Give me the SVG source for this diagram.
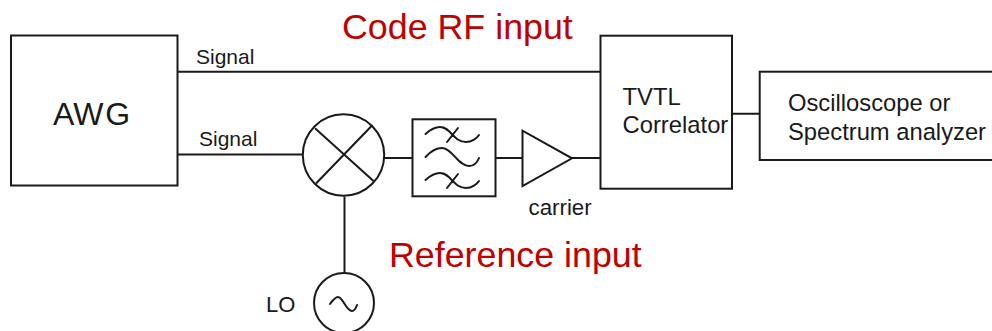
<svg xmlns="http://www.w3.org/2000/svg" width="992" height="331" viewBox="0 0 992 331">
<style>
.s{fill:none;stroke:#1a1a1a;stroke-width:2}
.c{fill:none;stroke:#1a1a1a;stroke-width:2;stroke-linecap:round}
.t{font-family:"Liberation Sans",Arial,sans-serif;fill:#1a1a1a}
.r{font-family:"Liberation Sans",Arial,sans-serif;fill:#c00000;font-size:35.8px}
</style>
<rect width="992" height="331" fill="#fff"/>
<g id="connectors">
<path class="s" d="M178 71.7H600.5M178 154.5H303M384 158H412.5M495.5 158H522.5M572 158H600.5M732 113.7H760M344.5 196.500V273.500"/>
</g>
<g id="awg"><rect class="s" x="11" y="35.500" width="166.500" height="150"/><text class="t" x="53" y="125" font-size="32">AW<tspan dx="2">G</tspan></text></g>
<g id="mixer"><circle class="s" cx="343.500" cy="155" r="40.700"/><path class="s" d="M315 128.300L373.500 181M372.500 125L316 183.500"/></g>
<g id="filter"><rect class="s" x="412.500" y="119.300" width="83" height="77"/>
<path class="c" d="M425.500 134C431 129 436 127 440 127C451 127 453 142 466 142C472 142 477 138 479 135M447 142L458 128"/>
<path class="c" d="M425.500 157C431 151 437 148 442 148C452 148 458 166 469 166C474 166 477 163 479 158"/>
<path class="c" d="M425.500 180C431 175 436 173 440 173C451 173 453 188 466 188C472 188 477 184 479 181M447 188L458 174"/></g>
<g id="amp"><path class="s" d="M522.500 130.700V186L572 158.300Z"/></g>
<g id="lo"><circle class="s" cx="344" cy="303" r="30"/><path class="c" d="M330 304C333 300 335 297 338 297C343 297 346 311 352 311C355 311 356 308 357 305"/></g>
<g id="correlator"><rect class="s" x="600.500" y="35.700" width="131.500" height="153"/><text class="t" x="622.500" y="105" font-size="23.800">TVTL</text><text class="t" x="622.500" y="133" font-size="23.800">Correlator</text></g>
<g id="scope"><rect class="s" x="759.700" y="71.700" width="240" height="88.300"/><text class="t" x="788" y="111" font-size="23.750">Oscilloscope or</text><text class="t" x="788" y="140" font-size="23.750">Spectrum analyzer</text></g>
<text class="t" x="196" y="64" font-size="21">Signal</text>
<text class="t" x="199" y="146" font-size="21">Signal</text>
<text class="t" x="528.500" y="215" font-size="22.300">carrier</text>
<text class="t" x="266" y="312" font-size="22">LO</text>
<text class="r" x="342" y="39">Code RF input</text>
<text class="r" x="389" y="267">Reference input</text>
</svg>
